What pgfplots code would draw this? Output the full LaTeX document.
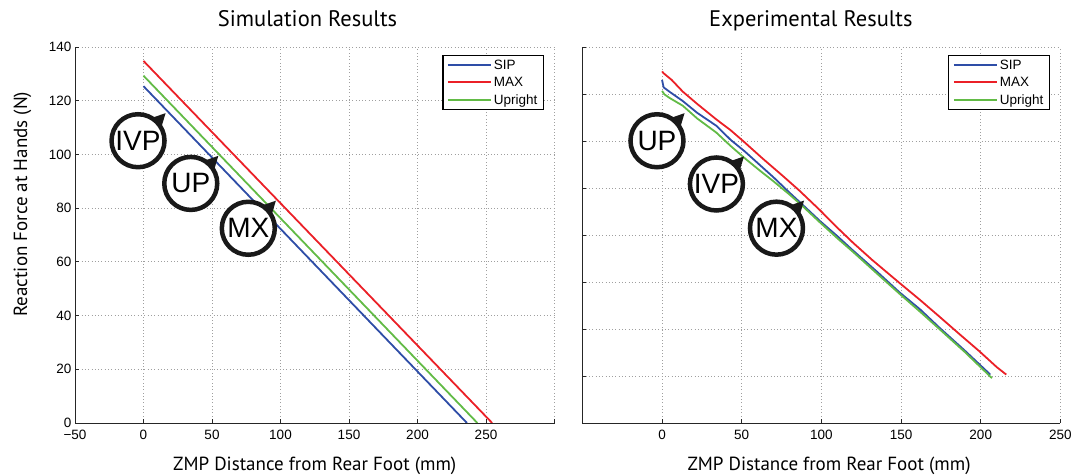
\documentclass[border=0pt]{standalone}
\usepackage{fontspec}
\setmainfont{Liberation Sans}
\newfontfamily\labelfont{PT Sans}
\usepackage{pgfplots}
\usepackage{pgfplotstable}
\pgfplotsset{compat=1.18}

\definecolor{sipblue}{RGB}{46,77,167}
\definecolor{maxred}{RGB}{235,32,39}
\definecolor{upgreen}{RGB}{98,187,70}

% simulated force profiles (straight lines)
\pgfplotstableread{
x y
0 125.4
236.1 0
}\simsip
\pgfplotstableread{
x y
0 134.8
254.5 0
}\simmax
\pgfplotstableread{
x y
0 129.3
243.7 0
}\simup

% measured force profiles
\pgfplotstableread{
x y
0 126.0
0.4 124.6
1 122.8
5 120.8
13 117.0
22 112.0
34 106.5
43 100.5
52 95.5
61 90.0
70 84.5
80 78.0
88 73.0
99 66.0
110 59.5
120 53.3
135 44.3
149 35.6
162 28.3
174 20.6
190 10.8
206 0.6
}\expsip
\pgfplotstableread{
x y
0 129.6
1 128.8
6 126.0
13 121.0
22 115.8
34 109.2
43 104.6
51 99.9
63 92.6
76 85.0
86 79.0
99 70.6
110 63.1
120 56.6
132 49.3
149 39.6
162 32.3
174 25.3
187 17.6
199 10.6
210 3.8
216 0.6
}\expmax
\pgfplotstableread{
x y
0 121.3
1.5 119.8
5 118.2
13 115.0
22 109.6
34 103.6
43 97.9
52 92.6
61 87.6
70 82.8
80 77.2
88 72.4
99 65.4
110 58.6
120 52.7
135 43.5
149 35.0
162 27.3
174 20.0
190 10.2
207 -0.9
}\expup

\pgfplotsset{
  zmpaxis/.style={
    scale only axis, height=376bp,
    axis x line*=bottom, axis y line*=left,
    axis line style={black!85, line width=0.9bp},
    tick align=inside, major tick length=4bp,
    tick style={black!85, line width=0.7bp},
    grid=major,
    major grid style={gray!75, line width=0.7bp, dash pattern=on 0.7bp off 2.6bp},
    tick label style={font=\fontsize{13.5bp}{15bp}\selectfont},
    xticklabel style={yshift=-4bp},
    /pgf/number format/assume math mode=true,
    xlabel={ZMP Distance from Rear Foot (mm)},
    xlabel style={font=\labelfont\fontsize{19bp}{21bp}\selectfont},
    every axis title/.style={font=\labelfont\fontsize{22.5bp}{24bp}\selectfont, anchor=base},
    legend style={at={(1,1)}, xshift=-10.5bp, yshift=-8bp, anchor=north east,
      draw=black, line width=1.3bp, fill=white,
      font=\fontsize{13.5bp}{15bp}\selectfont,
      inner xsep=4bp, inner ysep=2bp, row sep=2.5bp,
      cells={anchor=west}},
    legend image code/.code={\draw[#1, line width=2bp] (0bp,0bp) -- (43bp,0bp);},
    every axis plot/.append style={line width=1.8bp, mark=none},
  },
}
\tikzset{
  callout/.style={circle, draw=black!90, fill=white, line width=4.5bp,
    minimum size=53bp, inner sep=0pt, font=\fontsize{28bp}{28bp}\selectfont},
}

% circled label with a pointer towards the upper right
\newcommand{\callout}[2]{%
  \node[callout] (c) at (axis cs:#1) {#2};
  \fill[black!90] ([shift={(28:26bp)}]c.center) -- ([shift={(45:39bp)}]c.center)
    -- ([shift={(60:26bp)}]c.center) -- cycle;
}

\begin{document}
\begin{tikzpicture}[x=1bp,y=1bp]
\useasboundingbox (0,0) rectangle (1076,475);

\begin{axis}[zmpaxis,
  at={(75bp,52bp)}, anchor=south west, width=479.5bp,
  xmin=-50, xmax=300, ymin=0, ymax=140,
  xtick={-50,0,50,100,150,200,250,300},
  xticklabels={−50,0,50,100,150,200,250,{}},
  ytick={0,20,...,140},
  title={Simulation Results},
  title style={at={(rel axis cs:0.485,1)}, yshift=20.3bp},
  xlabel style={at={(rel axis cs:0.5,0)}, anchor=base, yshift=-47.5bp},
  ylabel={Reaction Force at Hands (N)},
  ylabel style={font=\labelfont\fontsize{19bp}{21bp}\selectfont,
    at={(rel axis cs:0,0.582)}, anchor=base, yshift=48bp},
]
\addplot[sipblue] table {\simsip};
\addplot[maxred] table {\simmax};
\addplot[upgreen] table {\simup};
\legend{SIP,MAX,Upright}
\callout{-4,105.1}{IVP}
\callout{34.5,89.2}{UP}
\callout{76.5,72.5}{MX}
\end{axis}

\begin{axis}[zmpaxis,
  at={(582.4bp,52bp)}, anchor=south west, width=478bp,
  xmin=-50, xmax=250, ymin=-20, ymax=140,
  xtick={0,50,...,250},
  ytick={-20,0,...,140}, yticklabels={},
  title={Experimental Results},
  title style={at={(rel axis cs:0.478,1)}, yshift=20.3bp},
  xlabel style={at={(rel axis cs:0.516,0)}, anchor=base, yshift=-47.5bp},
]
\addplot[sipblue] table {\expsip};
\addplot[maxred] table {\expmax};
\addplot[upgreen] table {\expup};
\legend{SIP,MAX,Upright}
\callout{-3.2,100.1}{UP}
\callout{34.1,81.7}{IVP}
\callout{71.8,62.9}{MX}
\end{axis}
\end{tikzpicture}
\end{document}
